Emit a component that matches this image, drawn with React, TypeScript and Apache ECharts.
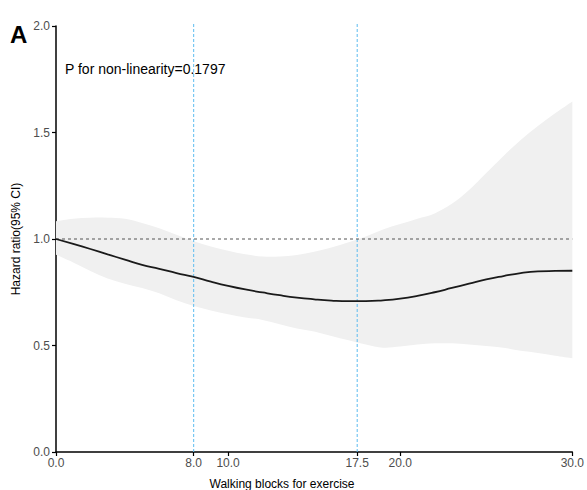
import React, { useEffect, useRef } from "react";
import * as echarts from "echarts";

const xValues = [0, 1, 2, 3, 4, 5, 6, 7, 8, 9, 10, 11, 12, 13, 14, 15, 16, 17, 18, 19, 20, 21, 22, 23, 24, 25, 26, 27, 28, 29, 30];
const hrValues = [1.0, 0.977, 0.953, 0.928, 0.903, 0.878, 0.86, 0.84, 0.822, 0.8, 0.78, 0.763, 0.749, 0.736, 0.725, 0.717, 0.711, 0.708, 0.708, 0.712, 0.72, 0.733, 0.75, 0.77, 0.79, 0.81, 0.826, 0.84, 0.848, 0.85, 0.851];
const upperValues = [1.083, 1.095, 1.1, 1.1, 1.095, 1.075, 1.05, 1.02, 0.99, 0.965, 0.945, 0.928, 0.918, 0.918, 0.925, 0.94, 0.96, 0.985, 1.012, 1.045, 1.07, 1.095, 1.12, 1.165, 1.23, 1.31, 1.39, 1.465, 1.53, 1.59, 1.646];
const lowerValues = [0.926, 0.89, 0.85, 0.815, 0.79, 0.77, 0.745, 0.712, 0.685, 0.664, 0.647, 0.632, 0.62, 0.6, 0.58, 0.566, 0.545, 0.525, 0.505, 0.49, 0.495, 0.505, 0.51, 0.51, 0.505, 0.498, 0.49, 0.475, 0.465, 0.452, 0.44];
const xTickValues = [0, 8, 10, 17.5, 20, 30];
const refLinesX = [8, 17.5];
const refLineY = 1.0;
const pText = "P for non-linearity=0.1797";
const panelLabel = "A";
const xAxisTitle = "Walking blocks for exercise";
const yAxisTitle = "Hazard ratio(95% CI)";

const FONT = '"Liberation Sans", Arial, sans-serif';

// Catmull-Rom -> cubic bezier path segments through pixel points
function smoothSegments(pts: number[][], moveFirst: boolean): string {
  let d = moveFirst ? `M${pts[0][0]},${pts[0][1]}` : `L${pts[0][0]},${pts[0][1]}`;
  const t = 1 / 6;
  for (let i = 0; i < pts.length - 1; i++) {
    const p0 = pts[i - 1] || pts[i];
    const p1 = pts[i];
    const p2 = pts[i + 1];
    const p3 = pts[i + 2] || p2;
    const c1x = p1[0] + (p2[0] - p0[0]) * t;
    const c1y = p1[1] + (p2[1] - p0[1]) * t;
    const c2x = p2[0] - (p3[0] - p1[0]) * t;
    const c2y = p2[1] - (p3[1] - p1[1]) * t;
    d += ` C${c1x},${c1y} ${c2x},${c2y} ${p2[0]},${p2[1]}`;
  }
  return d;
}

export default function App() {
  const ref = useRef<HTMLDivElement>(null);
  useEffect(() => {
    document.body.style.margin = "0";
    if (!ref.current) return;
    const chart = echarts.init(ref.current, undefined, { renderer: "svg" });
    const lineData = xValues.map((x, i) => [x, hrValues[i]]);
    const xMin = xValues[0];
    const xMax = xValues[xValues.length - 1];
    chart.setOption({
      animation: false,
      textStyle: { fontFamily: FONT },
      grid: { left: 56, right: 10, top: 26, bottom: 38, containLabel: false },
      xAxis: {
        type: "value",
        min: 0,
        max: 30,
        splitLine: { show: false },
        axisLine: { show: true, lineStyle: { color: "#000", width: 1.5 } },
        axisTick: { show: true, length: 4, customValues: xTickValues, lineStyle: { color: "#000", width: 1.2 } },
        axisLabel: {
          customValues: xTickValues,
          formatter: (v: number) => v.toFixed(1),
          color: "#4d4d4d",
          fontSize: 12,
          margin: 5,
          fontFamily: FONT,
        },
      },
      yAxis: {
        type: "value",
        min: 0,
        max: 2,
        interval: 0.5,
        splitLine: { show: false },
        axisLine: { show: true, lineStyle: { color: "#000", width: 1.5 } },
        axisTick: { show: true, length: 4, lineStyle: { color: "#000", width: 1.2 } },
        axisLabel: {
          formatter: (v: number) => v.toFixed(1),
          color: "#4d4d4d",
          fontSize: 12,
          margin: 6,
          fontFamily: FONT,
        },
        name: yAxisTitle,
        nameLocation: "middle",
        nameGap: 29,
        nameTextStyle: { color: "#000", fontSize: 12, fontFamily: FONT },
      },
      graphic: [
        {
          type: "text",
          left: 10,
          top: 22,
          z: 100,
          style: { text: panelLabel, font: `bold 24px ${FONT}`, fill: "#000" },
        },
        {
          type: "text",
          left: 65,
          top: 62,
          z: 100,
          style: { text: pText, font: `14px ${FONT}`, fill: "#000" },
        },
        {
          type: "text",
          x: 282,
          y: 484,
          z: 100,
          style: { text: xAxisTitle, font: `12px ${FONT}`, fill: "#000", align: "center", verticalAlign: "middle" },
        },
      ],
      series: [
        {
          type: "custom",
          silent: true,
          z: 1,
          data: [0],
          renderItem: (_params: any, api: any) => {
            const up = xValues.map((x, i) => api.coord([x, upperValues[i]]));
            const lo = xValues.map((x, i) => api.coord([x, lowerValues[i]])).reverse();
            const d = smoothSegments(up, true) + " " + smoothSegments(lo, false) + " Z";
            const children: any[] = [
              {
                type: "path",
                shape: { pathData: d },
                style: { fill: "#f0f0f0", stroke: "none" },
              },
            ];
            refLinesX.forEach((x) => {
              const a = api.coord([x, 0]);
              const b = api.coord([x, 2]);
              children.push({
                type: "line",
                shape: { x1: a[0], y1: a[1], x2: b[0], y2: b[1] - 3 },
                style: { stroke: "#5cbcf0", lineWidth: 1, lineDash: [3, 2] },
              });
            });
            const h1 = api.coord([xMin, refLineY]);
            const h2 = api.coord([xMax, refLineY]);
            children.push({
              type: "line",
              shape: { x1: h1[0], y1: h1[1], x2: h2[0], y2: h2[1] },
              style: { stroke: "#555555", lineWidth: 1.2, lineDash: [3, 3] },
            });
            return { type: "group", children };
          },
        },
        {
          type: "line",
          data: lineData,
          smooth: true,
          symbol: "none",
          lineStyle: { color: "#1a1a1a", width: 1.8 },
          z: 5,
        },
      ],
    });
    return () => chart.dispose();
  }, []);
  return <div ref={ref} style={{ width: 587, height: 490 }} />;
}
